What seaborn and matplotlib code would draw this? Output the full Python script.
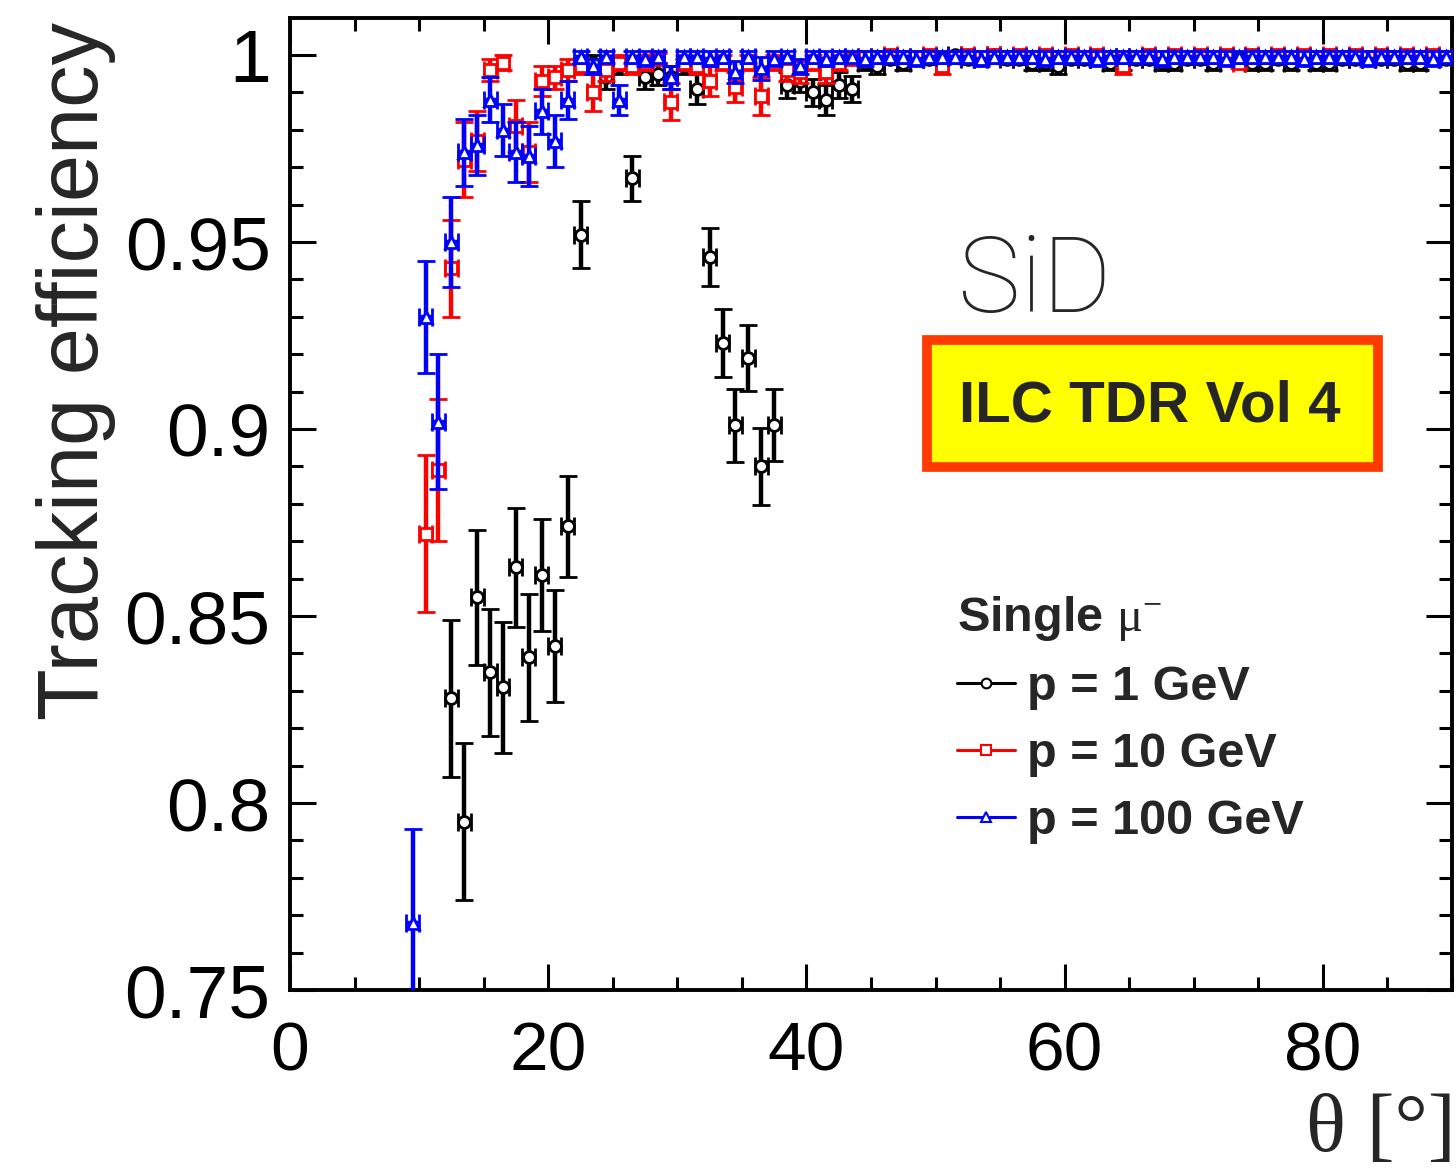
import numpy as np
import pandas as pd
import matplotlib
matplotlib.use("Agg")
import matplotlib.pyplot as plt
from matplotlib.lines import Line2D
from matplotlib.patches import Rectangle
from matplotlib.ticker import MultipleLocator, FormatStrFormatter
import seaborn as sns

# ---------------- data ----------------
theta_1 = [12.5, 13.5, 14.5, 15.5, 16.5, 17.5, 18.5, 19.5, 20.5, 21.5,
           22.5, 23.5, 24.5, 25.5, 26.5, 27.5, 28.5, 29.5, 30.5, 31.5,
           32.5, 33.5, 34.5, 35.5, 36.5, 37.5, 38.5, 39.5, 40.5, 41.5,
           42.5, 43.5, 44.5, 45.5, 46.5, 47.5, 48.5, 49.5, 50.5, 51.5,
           52.5, 53.5, 54.5, 55.5, 56.5, 57.5, 58.5, 59.5, 60.5, 61.5,
           62.5, 63.5, 64.5, 65.5, 66.5, 67.5, 68.5, 69.5, 70.5, 71.5,
           72.5, 73.5, 74.5, 75.5, 76.5, 77.5, 78.5, 79.5, 80.5, 81.5,
           82.5, 83.5, 84.5, 85.5, 86.5, 87.5, 88.5, 89.5]
eff_1 = [0.828, 0.795, 0.855, 0.835, 0.831, 0.863, 0.839, 0.861, 0.842, 0.874,
         0.952, 0.998, 0.994, 0.997, 0.967, 0.994, 0.995, 0.994, 0.997, 0.991,
         0.946, 0.923, 0.901, 0.919, 0.890, 0.901, 0.992, 0.993, 0.990, 0.988,
         0.992, 0.991, 0.998, 0.997, 0.999, 0.998, 0.999, 0.999, 0.999, 1.000,
         0.999, 0.999, 1.000, 0.999, 0.999, 0.998, 0.998, 0.997, 0.999, 0.999,
         0.999, 0.998, 0.998, 0.999, 0.999, 0.998, 0.998, 0.999, 0.999, 0.998,
         0.999, 0.999, 0.998, 0.998, 0.999, 0.998, 0.999, 0.998, 0.998, 0.999,
         0.999, 0.999, 0.999, 0.999, 0.998, 0.998, 0.999, 0.999]
err_1 = [0.021, 0.021, 0.018, 0.017, 0.0175, 0.016, 0.017, 0.015, 0.015, 0.0135,
         0.009, 0.002, 0.003, 0.002, 0.006, 0.003, 0.003, 0.003, 0.002, 0.004,
         0.0078, 0.0092, 0.0098, 0.0089, 0.0103, 0.0096, 0.0035, 0.003, 0.0035, 0.004,
         0.0035, 0.0035, 0.002, 0.002, 0.0015, 0.002, 0.0015, 0.0015, 0.0015, 0.0012,
         0.0015, 0.0015, 0.0012, 0.0015, 0.0015, 0.002, 0.002, 0.002, 0.0015, 0.0015,
         0.0015, 0.002, 0.002, 0.0015, 0.0015, 0.002, 0.002, 0.0015, 0.0015, 0.002,
         0.0015, 0.0015, 0.002, 0.002, 0.0015, 0.002, 0.0015, 0.002, 0.002, 0.0015,
         0.0015, 0.0015, 0.0015, 0.0015, 0.002, 0.002, 0.0015, 0.0015]

theta_10 = [10.5, 11.5] + theta_1
eff_10 = [0.872, 0.889, 0.943, 0.972, 0.977, 0.996, 0.998, 0.981, 0.974, 0.993,
          0.994, 0.996, 0.997, 0.990, 0.996, 0.998, 0.997, 0.998, 0.999, 0.9875,
          0.998, 0.997, 0.993, 0.998, 0.9915, 0.998, 0.989, 0.998, 0.996, 0.9955,
          0.998, 0.9955, 0.998, 0.999, 0.9995, 0.9995, 1.000, 0.9995, 0.9995, 1.000,
          0.997, 0.9995, 1.000, 0.9995, 1.000, 0.9995, 1.000, 0.9995, 1.000, 0.9995,
          1.000, 0.9995, 1.000, 0.9995, 0.997, 0.9995, 1.000, 0.9995, 1.000, 0.9995,
          1.000, 0.9995, 1.000, 0.998, 1.000, 0.9995, 1.000, 0.9995, 1.000, 0.9995,
          1.000, 0.9995, 1.000, 0.9995, 1.000, 0.9995, 1.000, 0.9995, 1.000, 0.9995]
err_10 = [0.021, 0.019, 0.013, 0.010, 0.008, 0.003, 0.002, 0.007, 0.008, 0.004,
          0.003, 0.003, 0.002, 0.005, 0.003, 0.002, 0.002, 0.002, 0.0015, 0.005,
          0.002, 0.002, 0.004, 0.002, 0.004, 0.002, 0.005, 0.002, 0.003, 0.003,
          0.002, 0.003, 0.002, 0.0015, 0.001, 0.001, 0.001, 0.001, 0.001, 0.001,
          0.002, 0.001, 0.001, 0.001, 0.001, 0.001, 0.001, 0.001, 0.001, 0.001,
          0.001, 0.001, 0.001, 0.001, 0.002, 0.001, 0.001, 0.001, 0.001, 0.001,
          0.001, 0.001, 0.001, 0.0015, 0.001, 0.001, 0.001, 0.001, 0.001, 0.001,
          0.001, 0.001, 0.001, 0.001, 0.001, 0.001, 0.001, 0.001, 0.001, 0.001]

theta_100 = [9.5] + theta_10
eff_100 = [0.768, 0.930, 0.902, 0.950, 0.974, 0.976, 0.988, 0.980, 0.974, 0.973,
           0.985, 0.977, 0.988, 0.9995, 0.997, 0.9995, 0.988, 0.9995, 0.999, 0.9995,
           0.994, 0.9995, 0.9995, 0.999, 0.9995, 0.9955, 0.9995, 0.9964, 0.999, 0.9995,
           0.997, 0.9995, 0.999, 0.9995, 0.9995, 0.999, 0.9995, 0.9995, 0.9995, 0.999,
           0.9995, 0.9995, 0.9995, 0.9995, 0.999, 0.9995, 0.9995, 0.9995, 0.9995, 0.999,
           0.9995, 0.9995, 0.9995, 0.999, 0.9995, 0.9995, 0.9995, 0.9995, 0.999, 0.9995,
           0.9995, 0.9995, 0.9995, 0.999, 0.9995, 0.9995, 0.9995, 0.9995, 0.9995, 0.999,
           0.9995, 0.9995, 0.9995, 0.9995, 0.999, 0.9995, 0.9995, 0.9995, 0.9995, 0.999,
           0.9995]
err_100 = [0.025, 0.015, 0.018, 0.012, 0.009, 0.008, 0.006, 0.007, 0.008, 0.008,
           0.006, 0.007, 0.005, 0.0015, 0.002, 0.0015, 0.004, 0.0015, 0.002, 0.0015,
           0.003, 0.0015, 0.0015, 0.002, 0.0015, 0.003, 0.0015, 0.003, 0.002, 0.0015,
           0.002, 0.0015, 0.002, 0.0015, 0.0015, 0.002, 0.0015, 0.0015, 0.0015, 0.002,
           0.0015, 0.0015, 0.0015, 0.0015, 0.002, 0.0015, 0.0015, 0.0015, 0.0015, 0.002,
           0.0015, 0.0015, 0.0015, 0.002, 0.0015, 0.0015, 0.0015, 0.0015, 0.002, 0.0015,
           0.0015, 0.0015, 0.0015, 0.002, 0.0015, 0.0015, 0.0015, 0.0015, 0.0015, 0.002,
           0.0015, 0.0015, 0.0015, 0.0015, 0.002, 0.0015, 0.0015, 0.0015, 0.0015, 0.002,
           0.0015]

bin_half_width = 0.5
series_labels = ["p = 1 GeV", "p = 10 GeV", "p = 100 GeV"]
series_colors = ["black", "#ff0000", "#0000ff"]
series_markers = ["o", "s", "^"]

x_ticks = [0, 20, 40, 60, 80]
y_ticks = [0.75, 0.8, 0.85, 0.9, 0.95, 1.0]

df = pd.concat([
    pd.DataFrame({"theta": theta_1, "eff": eff_1, "err": err_1, "series": series_labels[0]}),
    pd.DataFrame({"theta": theta_10, "eff": eff_10, "err": err_10, "series": series_labels[1]}),
    pd.DataFrame({"theta": theta_100, "eff": eff_100, "err": err_100, "series": series_labels[2]}),
])

# ---------------- style ----------------
sns.set_theme(style="ticks")
plt.rcParams["font.family"] = ["Liberation Sans", "DejaVu Sans"]
plt.rcParams["mathtext.fontset"] = "custom"
plt.rcParams["mathtext.rm"] = "Liberation Serif"
plt.rcParams["mathtext.it"] = "Liberation Serif:italic"

DPI = 100
fig = plt.figure(figsize=(14.56, 11.74), dpi=DPI)
ax = fig.add_axes([290 / 1456, 1 - 990 / 1174, (1452 - 290) / 1456, (990 - 18) / 1174])

for i, (lab, col, mk) in enumerate(zip(series_labels, series_colors, series_markers)):
    d = df[df["series"] == lab]
    ax.errorbar(d["theta"], d["eff"], yerr=d["err"], xerr=bin_half_width,
                fmt=mk, color=col, mec=col, mfc="white", ms=8.5 if mk != "^" else 9,
                mew=2.0, elinewidth=3.2, capsize=6.5, capthick=3.2,
                zorder=3 + i)

ax.set_xlim(0, 90)
ax.set_ylim(0.75, 1.0099)
ax.set_xticks(x_ticks)
ax.set_yticks(y_ticks)
ax.xaxis.set_minor_locator(MultipleLocator(5))
ax.yaxis.set_minor_locator(MultipleLocator(0.01))
ax.yaxis.set_major_formatter(FormatStrFormatter("%g"))
ax.xaxis.set_major_formatter(FormatStrFormatter("%g"))

ax.tick_params(which="both", direction="in", top=True, right=True, colors="black")
ax.tick_params(which="major", length=19, width=2.2)
ax.tick_params(which="minor", length=9.5, width=2.2)
ax.tick_params(axis="x", which="major", labelsize=50, pad=22)
ax.tick_params(axis="y", which="major", labelsize=54, pad=14)
for s in ax.spines.values():
    s.set_linewidth(2.8)
    s.set_color("black")

ax.set_ylabel("Tracking efficiency", fontsize=61, loc="top")
ax.yaxis.set_label_coords(-0.150, 0.996)
ax.set_xlabel("θ [°]", fontsize=60, family=["Liberation Serif", "DejaVu Serif"], loc="right")
ax.xaxis.set_label_coords(1.003, -0.106)

# annotations
fig.text(958 / 1456, 1 - 312 / 1174, "SiD", fontsize=76, family=["Roboto", "DejaVu Sans"],
         fontweight="light", ha="left", va="baseline")
fig.patches.append(Rectangle((927 / 1456, 1 - 467 / 1174), (1378 - 927) / 1456, (467 - 340) / 1174,
                             transform=fig.transFigure, facecolor="#ffff00",
                             edgecolor="#ff3a00", linewidth=7, zorder=10))
fig.text(1150 / 1456, 1 - 407 / 1174, "ILC TDR Vol 4", fontsize=42, fontweight="bold",
         ha="center", va="center", zorder=11)

# legend
handles = [Line2D([], [], color=c, marker=m, mfc="white", mec=c, ms=7, mew=1.5, lw=2.2)
           for c, m in zip(series_colors, series_markers)]
leg = ax.legend(handles, series_labels, title=r"Single $\mathrm{\mu}^{-}$",
                loc="upper left", bbox_to_anchor=((957 - 290) / 1162, 1 - (594 - 18) / 972),
                frameon=False, prop={"weight": "bold", "size": 35},
                title_fontproperties={"weight": "bold", "size": 35},
                alignment="left", handlelength=1.2, handletextpad=0.25,
                labelspacing=0.45, borderpad=0.0, borderaxespad=0.0)

fig.savefig("out.png", dpi=DPI)
